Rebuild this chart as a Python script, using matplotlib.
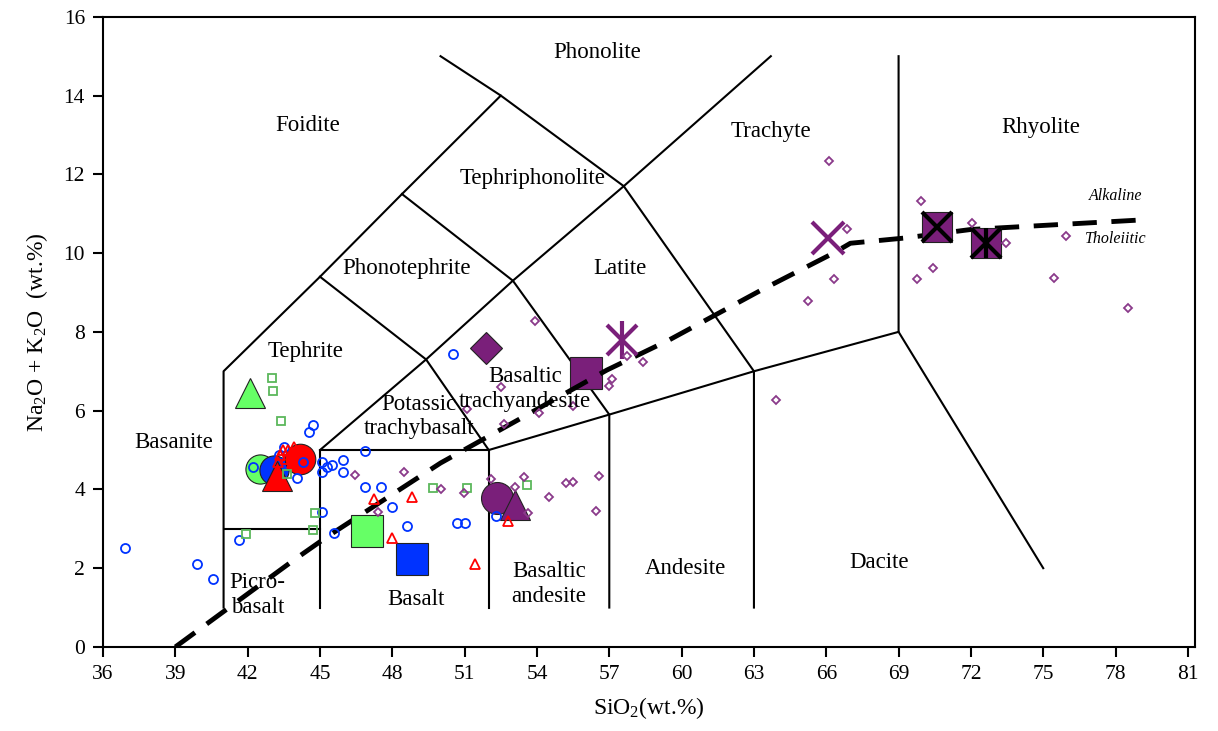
import matplotlib.pyplot as plt

plt.rcParams['font.family'] = ['Liberation Serif', 'DejaVu Serif']
plt.rcParams['mathtext.fontset'] = 'custom'
plt.rcParams['mathtext.rm'] = 'Liberation Serif'
plt.rcParams['mathtext.it'] = 'Liberation Serif:italic'

# TAS field boundaries (SiO2, Na2O+K2O)
field_lines = [
    [(41, 1), (41, 7), (45, 9.4), (48.4, 11.5), (52.5, 14), (50, 15)],
    [(41, 3), (45, 3)],
    [(45, 1), (45, 5), (52, 5), (52, 1)],
    [(45, 5), (49.4, 7.3), (52, 5)],
    [(45, 9.4), (49.4, 7.3), (53, 9.3), (57.6, 11.7), (63.7, 15)],
    [(48.4, 11.5), (53, 9.3), (57, 5.9), (57, 1)],
    [(52.5, 14), (57.6, 11.7), (63, 7), (63, 1)],
    [(52, 5), (57, 5.9), (63, 7), (69, 8), (69, 15)],
    [(69, 8), (75, 2)],
]

# alkaline / tholeiitic divide
divide_x = [39, 43.9, 45.3, 50, 53.2, 56.9, 59.5, 63.3, 66.3, 67.0, 69.2, 72, 79.3]
divide_y = [0, 2.2, 2.8, 4.67, 5.76, 7.03, 7.8, 9.06, 10.0, 10.25, 10.38, 10.6, 10.85]

field_names = ['Phonolite', 'Foidite', 'Tephriphonolite', 'Trachyte', 'Rhyolite',
               'Phonotephrite', 'Latite', 'Tephrite', 'Basaltic\ntrachyandesite',
               'Potassic\ntrachybasalt', 'Basanite', 'Picro-\nbasalt', 'Basalt',
               'Basaltic\nandesite', 'Andesite', 'Dacite']
name_x = [56.5, 44.5, 53.8, 63.7, 74.9, 48.6, 57.45, 44.4, 53.5, 49.1, 38.95,
          42.4, 49.0, 54.5, 60.15, 68.2]
name_y = [15.1, 13.25, 11.9, 13.1, 13.2, 9.6, 9.6, 7.5, 6.55, 5.86, 5.2,
          1.32, 1.2, 1.6, 2.0, 2.15]

# small symbols
blue_x = [36.9, 39.9, 40.55, 41.65, 42.2, 43.5, 43.3, 44.3, 44.05, 44.55, 44.7, 45.1,
          45.1, 45.3, 45.5, 45.95, 45.95, 46.85, 46.85, 47.55, 48.0, 48.6, 45.1, 45.6,
          50.7, 51.0, 52.3, 50.5]
blue_y = [2.5, 2.1, 1.72, 2.72, 4.57, 5.07, 4.87, 4.7, 4.3, 5.46, 5.63, 4.7,
          4.44, 4.57, 4.62, 4.75, 4.45, 4.97, 4.05, 4.07, 3.55, 3.06, 3.42, 2.9,
          3.14, 3.15, 3.32, 7.45]

green_x = [43.0, 43.05, 43.4, 43.63, 44.8, 44.7, 41.95, 49.7, 51.1, 53.6]
green_y = [6.83, 6.5, 5.74, 4.39, 3.4, 2.97, 2.87, 4.03, 4.04, 4.11]

red_x = [43.47, 43.68, 43.93, 43.34, 43.59, 43.26, 43.84, 47.24, 48.0, 48.8, 51.43, 52.8]
red_y = [5.0, 5.0, 5.08, 4.87, 4.77, 4.7, 4.67, 3.76, 2.77, 3.81, 2.1, 3.2]

purple_x = [46.46, 48.5, 47.4, 50.0, 50.97, 52.1, 53.1, 53.47, 54.5, 55.2, 55.5, 56.58,
            56.45, 53.63, 53.9, 52.5, 51.1, 52.65, 54.1, 55.5, 57.1, 57.0, 57.75, 58.4,
            66.1, 66.87, 66.33, 65.25, 63.93, 69.94, 72.06, 73.47, 70.44, 69.78, 75.96,
            75.46, 78.5]
purple_y = [4.37, 4.44, 3.43, 4.0, 3.9, 4.26, 4.06, 4.32, 3.8, 4.16, 4.19, 4.34,
            3.45, 3.4, 8.27, 6.6, 6.04, 5.66, 5.94, 6.12, 6.8, 6.62, 7.39, 7.23,
            12.34, 10.61, 9.34, 8.78, 6.27, 11.32, 10.76, 10.25, 9.62, 9.34, 10.43,
            9.37, 8.6]

# large symbols (averages)
green_circle = (42.5, 4.52)
blue_circle = (43.1, 4.5)
red_circle = (44.17, 4.77)
red_triangle = (43.2, 4.35)
green_triangle = (42.1, 6.45)
green_square = (46.95, 2.94)
blue_square = (48.82, 2.23)
purple_circle = (52.35, 3.78)
purple_triangle = (53.1, 3.6)
purple_diamond = (51.9, 7.59)
purple_square = (56.04, 6.95)
purple_star = (57.54, 7.79)
purple_cross = (66.08, 10.38)
purple_box_x = (70.6, 10.66)
purple_box_star = (72.64, 10.25)

GREEN = '#66ff66'
BLUE = '#0033ff'
RED = '#ff0000'
PURPLE = '#7a1f7a'

fig = plt.figure(figsize=(12.18, 7.31), dpi=100)
ax = fig.add_axes([0.0846, 0.115, 0.8966, 0.862])

for line in field_lines:
    xs = [p[0] for p in line]
    ys = [p[1] for p in line]
    ax.plot(xs, ys, color='black', lw=1.5, zorder=1)

for name, x, y in zip(field_names, name_x, name_y):
    ax.text(x, y, name, ha='center', va='center', fontsize=16.5,
            linespacing=1.2, zorder=6)

ax.text(78.0, 11.45, 'Alkaline', ha='center', va='center', fontsize=11.5, style='italic')
ax.text(78.0, 10.37, 'Tholeiitic', ha='center', va='center', fontsize=11.5, style='italic')

ax.plot(divide_x, divide_y, color='black', lw=3.5, linestyle=(0, (5, 3)), zorder=3)

# large symbols
big = dict(linestyle='none', markeredgecolor='#222222', markeredgewidth=0.8)
ax.plot(*purple_square, marker='s', ms=23, color=PURPLE, zorder=2, **big)
ax.plot(*green_circle, marker='o', ms=21, color=GREEN, zorder=4, **big)
ax.plot(*blue_circle, marker='o', ms=21, color=BLUE, zorder=4, **big)
ax.plot(*red_circle, marker='o', ms=22, color=RED, zorder=4, **big)
ax.plot(*red_triangle, marker='^', ms=22, color=RED, zorder=4, **big)
ax.plot(*green_triangle, marker='^', ms=22, color=GREEN, zorder=4, **big)
ax.plot(*green_square, marker='s', ms=23, color=GREEN, zorder=4, **big)
ax.plot(*blue_square, marker='s', ms=23, color=BLUE, zorder=4, **big)
ax.plot(*purple_circle, marker='o', ms=23, color=PURPLE, zorder=4, **big)
ax.plot(*purple_triangle, marker='^', ms=22, color=PURPLE, zorder=4, **big)
ax.plot(*purple_diamond, marker='D', ms=16, color=PURPLE, zorder=4, **big)
ax.plot(*purple_star, marker='x', ms=22, color=PURPLE, mew=3, zorder=4, linestyle='none')
ax.plot(*purple_star, marker='|', ms=28, color=PURPLE, mew=3, zorder=4, linestyle='none')
ax.plot(*purple_cross, marker='x', ms=23, color=PURPLE, mew=3, zorder=4, linestyle='none')
ax.plot(*purple_box_x, marker='s', ms=22, color=PURPLE, zorder=4, **big)
ax.plot(*purple_box_x, marker='x', ms=22, color='black', mew=3, zorder=4, linestyle='none')
ax.plot(*purple_box_star, marker='s', ms=22, color=PURPLE, zorder=4, **big)
ax.plot(*purple_box_star, marker='x', ms=22, color='black', mew=3, zorder=4, linestyle='none')
ax.plot(*purple_box_star, marker='|', ms=22, color='black', mew=3, zorder=4, linestyle='none')

# small symbols
ax.plot(blue_x, blue_y, 'o', ms=6.5, mfc='none', mec=BLUE, mew=1.3, zorder=5)
ax.plot(green_x, green_y, 's', ms=6, mfc='none', mec='#5cb85c', mew=1.3, zorder=5)
ax.plot(red_x, red_y, '^', ms=6.5, mfc='none', mec=RED, mew=1.3, zorder=5)
ax.plot(purple_x, purple_y, 'D', ms=4.5, mfc='none', mec='#8a3a8a', mew=1.3, zorder=5)

ax.set_xlim(36, 81.3)
ax.set_ylim(0, 16)
ax.set_xticks(range(36, 82, 3))
ax.set_yticks(range(0, 17, 2))
ax.tick_params(direction='out', length=7, width=1.5, labelsize=15.5, pad=6)
for sp in ax.spines.values():
    sp.set_linewidth(1.5)

ax.set_xlabel('SiO$_2$(wt.%)', fontsize=17, labelpad=8)
ax.set_ylabel('Na$_2$O + K$_2$O  (wt.%)', fontsize=17, labelpad=10)

fig.savefig('out.png', dpi=100)
